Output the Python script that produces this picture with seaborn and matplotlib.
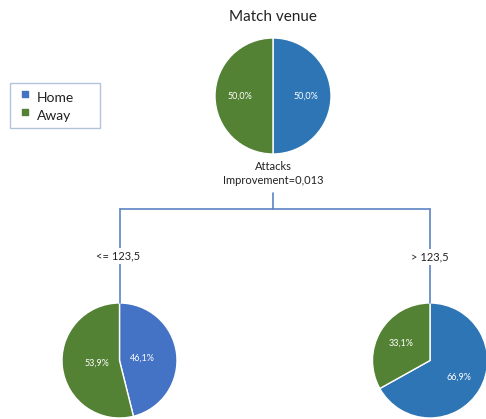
import matplotlib
matplotlib.use("Agg")
import matplotlib.pyplot as plt
import seaborn as sns
from matplotlib.patches import Rectangle

sns.set_theme(style="white")
plt.rcParams['font.family'] = ['Lato', 'DejaVu Sans']

# Data
classes = ["Home", "Away"]
root_vals = [50.0, 50.0]
left_vals = [46.1, 53.9]
right_vals = [66.9, 33.1]
title = "Match venue"
split_var = "Attacks"
improvement = "Improvement=0,013"
left_rule = "<= 123,5"
right_rule = "> 123,5"

BLUE_ROOT = "#2E75B6"
BLUE_LEFT = "#4472C4"
GREEN = "#548235"
LINE = "#5B84C4"

W, H = 486, 419
fig = plt.figure(figsize=(W / 100, H / 100), dpi=100)
ax = fig.add_axes([0, 0, 1, 1])

def Y(py):
    return H - py

def fmt(v):
    return f"{v:.1f}".replace(".", ",") + "%"

def draw_pie(vals, cx, cy, r, blue, pctd):
    wedges, _ = ax.pie(vals, colors=[blue, GREEN], startangle=90, counterclock=False,
                       center=(cx, Y(cy)), radius=r, frame=True,
                       wedgeprops=dict(edgecolor="white", linewidth=1.0))
    import numpy as np
    ang = 90.0
    for v in vals:
        mid = np.deg2rad(ang - v * 3.6 / 2)
        ax.text(cx + pctd * r * np.cos(mid), Y(cy) + pctd * r * np.sin(mid), fmt(v),
                color="white", fontsize=6.5, ha="center", va="center")
        ang -= v * 3.6

draw_pie(root_vals, 273, 96, 58, BLUE_ROOT, 0.57)
draw_pie(left_vals, 119.5, 360.5, 57.5, BLUE_LEFT, 0.40)
draw_pie(right_vals, 430, 360.5, 57.5, BLUE_ROOT, 0.58)

# Tree lines
lw = 1.2
ax.plot([273, 273], [Y(193), Y(209)], color=LINE, lw=lw)
ax.plot([119.5, 430], [Y(209), Y(209)], color=LINE, lw=lw)
ax.plot([119.5, 119.5], [Y(209), Y(303)], color=LINE, lw=lw)
ax.plot([430, 430], [Y(209), Y(303)], color=LINE, lw=lw)

# Texts
ax.text(273, Y(17), title, fontsize=11, ha="center", va="center", color="#222222")
ax.text(273, Y(167), split_var, fontsize=8, ha="center", va="center", color="#222222")
ax.text(273, Y(181), improvement, fontsize=8, ha="center", va="center", color="#222222")
bb = dict(facecolor="white", edgecolor="none", pad=2)
ax.text(118, Y(256), left_rule, fontsize=8, ha="center", va="center", color="#222222", bbox=bb)
ax.text(430, Y(257), right_rule, fontsize=8, ha="center", va="center", color="#222222", bbox=bb)

# Legend
ax.add_patch(Rectangle((10, Y(128)), 90, 45, facecolor="white", edgecolor="#B4C3DC", lw=1.0))
ax.scatter([25], [Y(94)], marker="s", s=16, color=BLUE_LEFT)
ax.scatter([25], [Y(112)], marker="s", s=16, color=GREEN)
ax.text(37, Y(98), classes[0], fontsize=10, ha="left", va="center", color="#222222")
ax.text(37, Y(116), classes[1], fontsize=10, ha="left", va="center", color="#222222")

ax.set_xlim(0, W)
ax.set_ylim(0, H)
ax.set_aspect("equal")
ax.axis("off")

fig.savefig("out.png", dpi=100)
